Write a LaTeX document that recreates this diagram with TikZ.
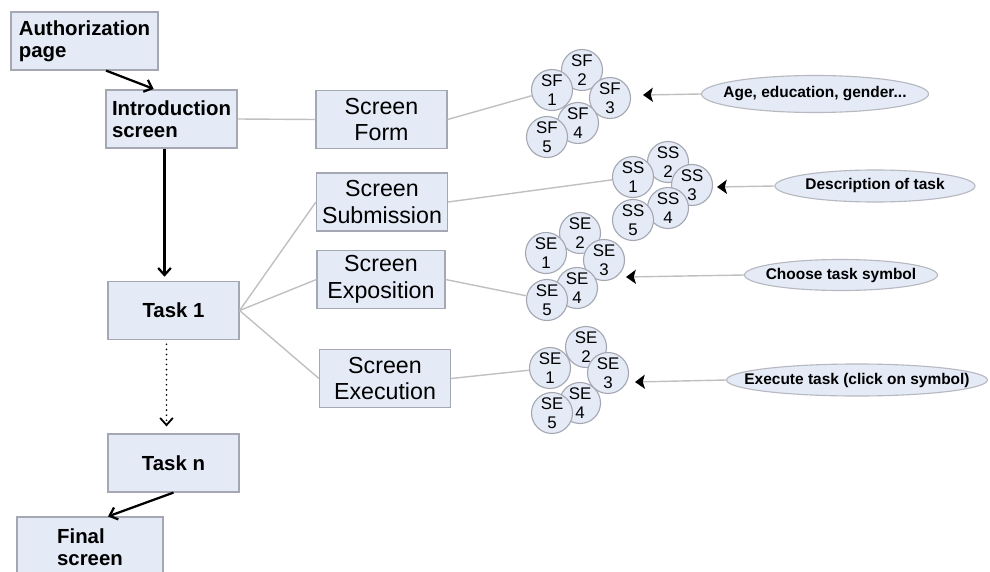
\documentclass[tikz,border=0pt]{standalone}
\usepackage{fontspec}
\setmainfont{Liberation Sans}
\usetikzlibrary{arrows.meta,calc,shapes.geometric}
\definecolor{paneFill}{RGB}{228,234,246}
\definecolor{paneEdge}{RGB}{165,168,178}
\definecolor{linkGray}{RGB}{192,192,192}

\begin{document}
\begin{tikzpicture}[x=0.025cm,y=-0.025cm,
  pane/.style={draw=paneEdge,fill=paneFill,line width=0.8pt,inner sep=0pt,minimum width=3.275cm,minimum height=1.45cm},
  flowbox/.style={pane,align=left,font=\fontsize{14.5}{15.5}\selectfont\bfseries},
  screenbox/.style={pane,align=center,font=\fontsize{16.5}{19}\selectfont},
  bubble/.style={circle,draw=paneEdge,fill=paneFill,line width=0.8pt,inner sep=0pt,minimum size=1.025cm,align=center,font=\fontsize{12}{13.5}\selectfont},
  tag/.style={ellipse,draw=paneEdge!80,fill=paneFill,line width=0.8pt,inner ysep=0pt,font=\fontsize{11}{12}\selectfont\bfseries},
  flow/.style={draw=black,line width=1.6pt,-{Straight Barb[length=5pt,width=9pt]}},
  link/.style={draw=linkGray,line width=1pt},
  pointer/.style={draw=linkGray,line width=1pt,-{Stealth[black,length=7pt,width=10pt,inset=1.5pt]}}]
 \useasboundingbox (0,0) rectangle (990,571);

 \node[flowbox,minimum width=3.675cm] (auth) at (84.5,41) {Authorization\\page};
 \node[flowbox] (intro) at (171.5,119) {Introduction\\screen};
 \node[flowbox] (task1) at (173.5,310.5) {Task 1};
 \node[flowbox] (taskn) at (173.5,463) {Task n};
 \node[flowbox,minimum width=3.65cm,minimum height=1.5cm] (final) at (90,547) {Final\\screen};

 \node[screenbox] (form) at (381.5,119.5) {Screen\\Form};
 \node[screenbox] (subm) at (382,202) {Screen\\Submission};
 \node[screenbox,minimum width=3.2cm] (expo) at (381,279.5) {Screen\\Exposition};
 \node[screenbox] (exec) at (385,378.5) {Screen\\Execution};

 \node[bubble] (sf2) at (582,70) {SF\\2};
 \node[bubble] (sf1) at (552,90) {SF\\1};
 \node[bubble] (sf3) at (610,98) {SF\\3};
 \node[bubble] (sf4) at (578,123) {SF\\4};
 \node[bubble] (sf5) at (547,137) {SF\\5};

 \node[bubble] (ss2) at (668,162) {SS\\2};
 \node[bubble] (ss1) at (633,177) {SS\\1};
 \node[bubble] (ss3) at (692,185) {SS\\3};
 \node[bubble] (ss4) at (668,208) {SS\\4};
 \node[bubble] (ss5) at (633,220) {SS\\5};

 \node[bubble] (sp2) at (580,233) {SE\\2};
 \node[bubble] (sp1) at (546,253) {SE\\1};
 \node[bubble] (sp3) at (604,260) {SE\\3};
 \node[bubble] (sp4) at (577,288) {SE\\4};
 \node[bubble] (sp5) at (547,300) {SE\\5};

 \node[bubble] (se2) at (586,347) {SE\\2};
 \node[bubble] (se1) at (550,368) {SE\\1};
 \node[bubble] (se3) at (608,373) {SE\\3};
 \node[bubble] (se4) at (580,403) {SE\\4};
 \node[bubble] (se5) at (552,413) {SE\\5};

 \node[tag,inner xsep=-8pt,minimum width=5.675cm,minimum height=0.925cm] (age) at (815,94) {Age, education, gender...};
 \node[tag,inner xsep=0pt,minimum width=5cm,minimum height=0.8cm] (descr) at (875,186) {Description of task};
 \node[tag,inner xsep=-5pt,minimum width=4.825cm,minimum height=0.775cm] (choose) at (841,275) {Choose task symbol};
 \node[tag,inner xsep=-14.5pt,minimum width=6.5cm,minimum height=0.8cm] (execute) at (857,380) {Execute task (click on symbol)};

 \coordinate (sfin) at (643,95);
 \coordinate (ssin) at (717,187);
 \coordinate (spin) at (626,277);
 \coordinate (sein) at (635,382);

 \draw[flow,shorten >=1pt] ($(auth.south)+(21.5,0)$) -- ($(intro.north)+(-16.5,0)$);
 \draw[flow,shorten >=3pt] ($(intro.south)+(-7,0)$) -- ($(task1.north)+(-9,0)$);
 \draw[flow,line width=1.3pt,line cap=round,dash pattern=on 0pt off 3.6pt,shorten <=3pt,shorten >=5pt] ($(task1.south)+(-7,0)$) -- ($(taskn.north)+(-7,0)$);
 \draw[flow] (taskn.south) -- ($(final.north)+(18,0)$);

 \draw[link] (intro.east) -- (form.west);
 \draw[link] (task1.east) -- (subm.west);
 \draw[link] (task1.east) -- (expo.west);
 \draw[link] (task1.east) -- (exec.west);
 \draw[link] (form.east) -- (sf1);
 \draw[link] (subm.east) -- (ss1);
 \draw[link] (expo.east) -- (sp5);
 \draw[link] (exec.east) -- (se1);

 \draw[pointer] (age.west) -- (sfin);
 \draw[pointer] (descr.west) -- (ssin);
 \draw[pointer] (choose.west) -- (spin);
 \draw[pointer] (execute.west) -- (sein);
\end{tikzpicture}
\end{document}
